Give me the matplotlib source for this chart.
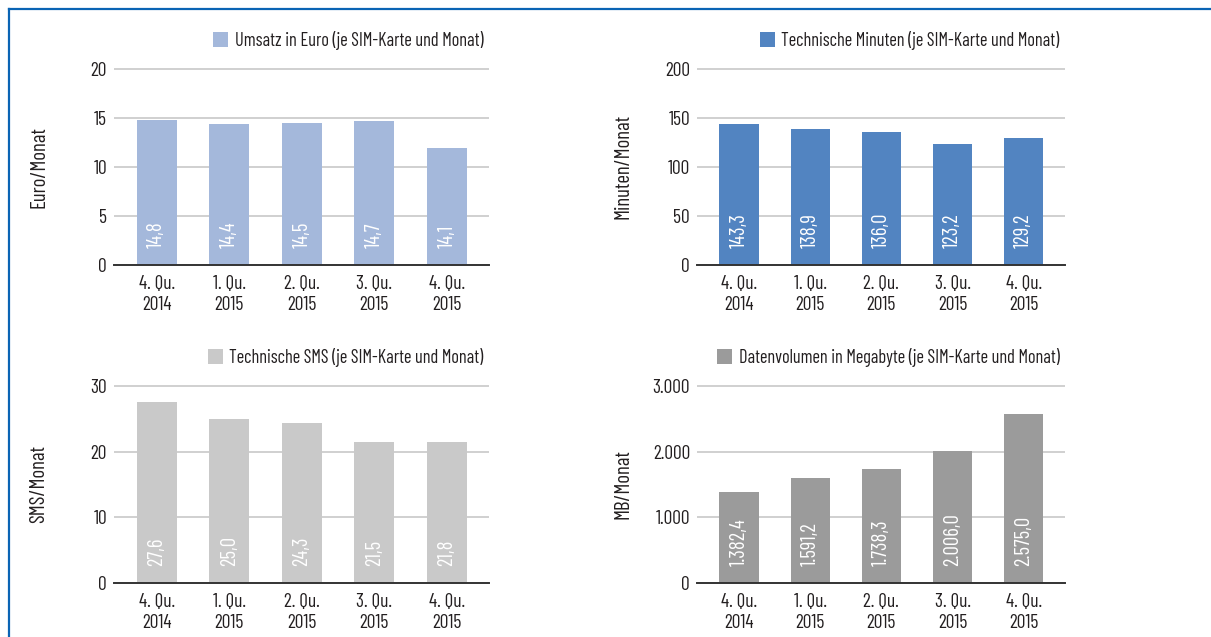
import matplotlib
matplotlib.use("Agg")
import matplotlib.pyplot as plt
from matplotlib.patches import Patch
from matplotlib.lines import Line2D
from matplotlib import font_manager

# condensed font like the original layout, first one that exists
names = {f.name for f in font_manager.fontManager.ttflist}
for cand in ["Barlow Condensed", "Archivo Narrow", "Roboto Condensed",
             "IBM Plex Sans Condensed", "Liberation Sans"]:
    if cand in names:
        FONT = cand
        break
plt.rcParams["font.family"] = [FONT, "DejaVu Sans"]

TEXT = "#231f20"

QUARTERS = ["4. Qu.\n2014", "1. Qu.\n2015", "2. Qu.\n2015", "3. Qu.\n2015", "4. Qu.\n2015"]

UMSATZ = [14.8, 14.4, 14.5, 14.7, 11.9]
UMSATZ_LBL = ["14,8", "14,4", "14,5", "14,7", "14,1"]
UMSATZ_TICKS = [0, 5, 10, 15, 20]

MINUTEN = [143.3, 138.9, 136.0, 123.2, 129.2]
MINUTEN_LBL = ["143,3", "138,9", "136,0", "123,2", "129,2"]
MINUTEN_TICKS = [0, 50, 100, 150, 200]

SMS = [27.6, 25.0, 24.3, 21.5, 21.5]
SMS_LBL = ["27,6", "25,0", "24,3", "21,5", "21,8"]
SMS_TICKS = [0, 10, 20, 30]

DATEN = [1382.4, 1591.2, 1738.3, 2006.0, 2575.0]
DATEN_LBL = ["1.382,4", "1.591,2", "1.738,3", "2.006,0", "2.575,0"]
DATEN_TICKS = [0, 1000, 2000, 3000]
DATEN_TICKLBL = ["0", "1.000", "2.000", "3.000"]

W, H = 1211, 637


def px_axes(fig, left, top, right, bottom):
    return fig.add_axes([left / W, 1 - bottom / H, (right - left) / W, (bottom - top) / H])


def panel(ax, values, labels, ticks, ticklabels, color, legend, ylabel):
    x = range(len(values))
    ax.bar(x, values, width=0.55, color=color, zorder=2)
    ax.set_xlim(-0.59, 4.58)
    ax.set_ylim(0, ticks[-1] * 1.004)
    ax.set_yticks(ticks)
    ax.set_yticklabels(ticklabels if ticklabels else [str(t) for t in ticks])
    ax.set_xticks(list(x))
    ax.set_xticklabels(QUARTERS, linespacing=1.25)
    ax.tick_params(axis="both", length=0, colors=TEXT, labelsize=14)
    ax.tick_params(axis="y", pad=5)
    ax.tick_params(axis="x", pad=7)
    for s in ["top", "right", "left"]:
        ax.spines[s].set_visible(False)
    ax.spines["bottom"].set_color("#333333")
    ax.spines["bottom"].set_linewidth(1.4)
    ax.spines["bottom"].set_zorder(3)
    ax.grid(axis="y", color="#d0d0d0", linewidth=1.4, zorder=1)
    ax.set_axisbelow(True)

    for i, lbl in enumerate(labels):
        ax.annotate(lbl, xy=(i, 0), xytext=(0, 12), textcoords="offset points",
                    rotation=90, ha="center", va="bottom", color="white", fontsize=15)

    ax.set_ylabel(ylabel, fontsize=15, color=TEXT)
    ax.yaxis.set_label_coords(-0.175, 0.5)

    h = Patch(facecolor=color, edgecolor="none")
    ax.legend(handles=[h], labels=[legend], loc="center right",
              bbox_to_anchor=(0.985, 1.14), frameon=False, fontsize=13.2,
              handlelength=0.82, handleheight=0.82, handletextpad=0.35,
              borderpad=0, borderaxespad=0, labelcolor=TEXT)


fig = plt.figure(figsize=(W / 100, H / 100), dpi=100)

ax1 = px_axes(fig, 114, 68, 489, 265)
panel(ax1, UMSATZ, UMSATZ_LBL, UMSATZ_TICKS, None, "#a4b8db",
      "Umsatz in Euro (je SIM-Karte und Monat)", "Euro/Monat")

ax2 = px_axes(fig, 697, 68, 1065, 265)
panel(ax2, MINUTEN, MINUTEN_LBL, MINUTEN_TICKS, None, "#5284c1",
      "Technische Minuten (je SIM-Karte und Monat)", "Minuten/Monat")

ax3 = px_axes(fig, 114, 385, 489, 583)
panel(ax3, SMS, SMS_LBL, SMS_TICKS, None, "#c9c9c9",
      "Technische SMS (je SIM-Karte und Monat)", "SMS/Monat")

ax4 = px_axes(fig, 697, 385, 1065, 583)
panel(ax4, DATEN, DATEN_LBL, DATEN_TICKS, DATEN_TICKLBL, "#9b9b9b",
      "Datenvolumen in Megabyte (je SIM-Karte und Monat)", "MB/Monat")

# blue frame (top and left edge)
fig.add_artist(Line2D([9 / W, 1], [1 - 8.5 / H, 1 - 8.5 / H], color="#0a64b4", linewidth=1.6))
fig.add_artist(Line2D([9 / W, 9 / W], [0, 1 - 8.5 / H], color="#0a64b4", linewidth=1.6))

fig.savefig("out.png", dpi=100)
